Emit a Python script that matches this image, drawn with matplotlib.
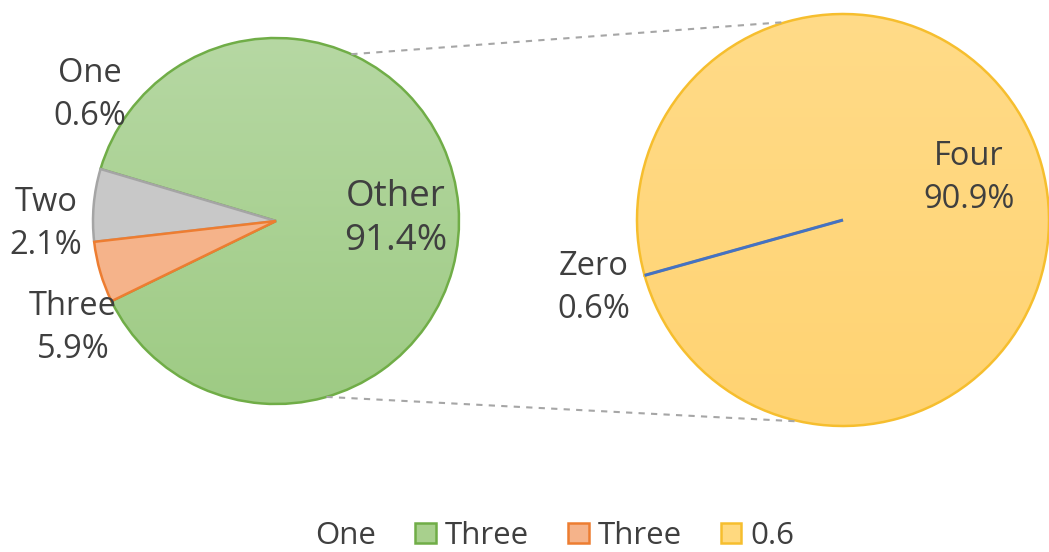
import numpy as np
import matplotlib.pyplot as plt
from matplotlib.patches import Patch
from matplotlib.colors import LinearSegmentedColormap

plt.rcParams['font.family'] = ['Open Sans', 'DejaVu Sans']

# left pie: Two, Three, Other (slice sizes as drawn)
left_names = ["Two", "Three", "Other"]
left_sizes = [6.4, 5.4, 88.2]
left_pct = ["2.1%", "5.9%", "91.4%"]
# right pie: Zero, Four
right_names = ["Zero", "Four"]
right_sizes = [0, 90.9]
right_pct = ["0.6%", "90.9%"]
# extra label with no visible slice
one_name, one_pct = "One", "0.6%"
legend_labels = ["One", "Three", "Three", "0.6"]

txt = "#3F3F3F"
W, H = 1049, 552
fig = plt.figure(figsize=(W / 100, H / 100), dpi=100)
ax = fig.add_axes([0, 0, 1, 1])

lc, lr = (276, 331), 183
rc, rr = (843, 332), 206


def gradient(wedge, c, r, top, bottom):
    # vertical colour gradient clipped to the wedge
    cm = LinearSegmentedColormap.from_list("g", [bottom, top])
    im = ax.imshow(np.linspace(0, 1, 256).reshape(-1, 1), cmap=cm, origin='lower',
                   extent=[c[0] - r, c[0] + r, c[1] - r, c[1] + r], aspect='auto',
                   zorder=wedge.get_zorder() - 0.05)
    im.set_clip_path(wedge)
    wedge.set_facecolor('none')


lw, _ = ax.pie(left_sizes, center=lc, radius=lr, startangle=163.5, counterclock=True,
               colors=["#C8C8C8", "#F5B38A", "#A8D08D"], frame=True,
               wedgeprops=dict(linewidth=1.8))
for w, ec in zip(lw, ["#A5A5A5", "#ED7D31", "#70AD47"]):
    w.set_edgecolor(ec)
lw[2].set_zorder(0.5)
gradient(lw[2], lc, lr, "#B6D8A3", "#9ECB84")

rw, _ = ax.pie(right_sizes, center=rc, radius=rr, startangle=195.6, counterclock=True,
               colors=["#4472C4", "#FFD97F"], frame=True,
               wedgeprops=dict(linewidth=1.8))
rw[0].set_edgecolor("#4472C4")
rw[0].set_linewidth(2.2)
rw[0].set_zorder(3)
rw[1].set_edgecolor("#F6BE2E")
gradient(rw[1], rc, rr, "#FFDB88", "#FFD372")

ax.set_xlim(0, W)
ax.set_ylim(0, H)
ax.set_aspect('equal')
ax.axis('off')

# connector lines
for a1, a2 in [(65.7, 106), (-74, -102)]:
    p1 = (lc[0] + lr * np.cos(np.radians(a1)), lc[1] + lr * np.sin(np.radians(a1)))
    p2 = (rc[0] + rr * np.cos(np.radians(a2)), rc[1] + rr * np.sin(np.radians(a2)))
    ax.plot([p1[0], p2[0]], [p1[1], p2[1]], ls=(0, (3, 3)), color="#A6A6A6", lw=1.5)

fs = 23.5
lab = dict(ha='center', va='center', color=txt, fontsize=fs, linespacing=1.38)
ax.text(90, H - 95, one_name + "\n" + one_pct, **lab)
ax.text(46, H - 224, left_names[0] + "\n" + left_pct[0], **lab)
ax.text(73, H - 328, left_names[1] + "\n" + left_pct[1], **lab)
ax.text(396, H - 219, left_names[2] + "\n" + left_pct[2], ha='center', va='center',
        color=txt, fontsize=26.5, linespacing=1.3)
ax.text(969, H - 178, right_names[1] + "\n" + right_pct[1], **lab)
ax.text(594, H - 288, right_names[0] + "\n" + right_pct[0], **lab)

handles = [Patch(fc='none', ec='none'),
           Patch(fc="#A8D08D", ec="#70AD47", lw=1.8),
           Patch(fc="#F5B38A", ec="#ED7D31", lw=1.8),
           Patch(fc="#FFD97F", ec="#F6BE2E", lw=1.8)]
fig.legend(handles, legend_labels, loc='center', bbox_to_anchor=(0.515, 1 - 536 / H),
           ncol=4, frameon=False, fontsize=22.5, labelcolor=txt,
           handlelength=0.65, handleheight=0.65, handletextpad=0.3, columnspacing=1.25)

fig.savefig("out.png", dpi=100)
